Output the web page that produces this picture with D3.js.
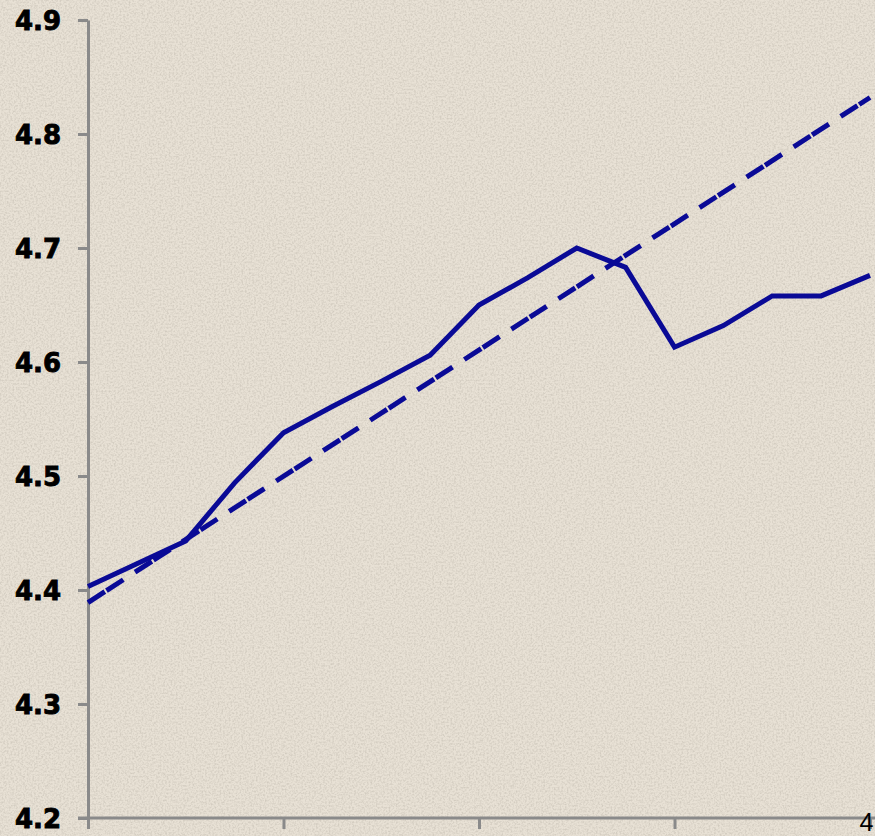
<!DOCTYPE html>
<html>
<head>
<meta charset="utf-8">
<script src="https://cdn.jsdelivr.net/npm/d3@7/dist/d3.min.js"></script>
<style>
  html, body { margin: 0; padding: 0; background: #e6dfd3; }
  svg { display: block; }
</style>
</head>
<body>
<svg id="chart" width="875" height="836"></svg>
<script>
// Quarterly index values (x = quarter number)
const quarters = [0, 1, 2, 3, 4, 5, 6, 7, 8, 9, 10, 11, 12, 13, 14, 15, 16];
const actual = [4.403, 4.423, 4.443, 4.494, 4.538, 4.561, 4.583, 4.606, 4.650,
                4.674, 4.700, 4.683, 4.613, 4.632, 4.658, 4.658, 4.676];
// Trend line end points
const trendX = [0, 16];
const trendY = [4.389, 4.832];
// Axis ticks
const yTicks = [4.2, 4.3, 4.4, 4.5, 4.6, 4.7, 4.8, 4.9];
const xTicks = [0, 4, 8, 12, 16];
const xTickLabels = ["", "", "", "", "4"];

const svg = d3.select("#chart");
const W = 875, H = 836;

// Textured paper background
const defs = svg.append("defs");
const f = defs.append("filter").attr("id", "paper")
  .attr("x", 0).attr("y", 0).attr("width", "100%").attr("height", "100%");
f.append("feTurbulence").attr("type", "fractalNoise")
  .attr("baseFrequency", 0.55).attr("numOctaves", 2).attr("seed", 7).attr("result", "n");
f.append("feColorMatrix").attr("type", "matrix")
  .attr("values", "0 0 0 0 0.35  0 0 0 0 0.32  0 0 0 0 0.27  0 0 0 -2.2 1.35");
svg.append("rect").attr("width", W).attr("height", H).attr("fill", "#e8e1d5");
svg.append("rect").attr("width", W).attr("height", H).attr("filter", "url(#paper)").attr("opacity", 0.3);

const x = d3.scaleLinear().domain([0, 16]).range([88, 870]);
const y = d3.scaleLinear().domain([4.2, 4.9]).range([818, 20]);

const axisColor = "#8a8a8a";

// Y axis
const yAxis = svg.append("g").attr("transform", "translate(88,0)")
  .call(d3.axisLeft(y).tickValues(yTicks).tickSize(10).tickSizeOuter(0)
    .tickFormat(d3.format(".1f")).tickPadding(17));
yAxis.select(".domain").attr("stroke", axisColor).attr("stroke-width", 3);
yAxis.selectAll(".tick line").attr("stroke", axisColor).attr("stroke-width", 3);
yAxis.selectAll(".tick text")
  .attr("font-family", "'DejaVu Sans', Verdana, sans-serif")
  .attr("font-weight", "bold").attr("font-size", 26).attr("fill", "#000")
  .attr("stroke", "#000").attr("stroke-width", 0.9)
  .attr("dy", "0.36em");

// X axis
const xAxis = svg.append("g").attr("transform", "translate(0,818)")
  .call(d3.axisBottom(x).tickValues(xTicks).tickSize(11).tickSizeOuter(0)
    .tickFormat((d, i) => xTickLabels[i]));
xAxis.select(".domain").attr("stroke", axisColor).attr("stroke-width", 3)
  .attr("d", "M78,0H875");
xAxis.selectAll(".tick line").attr("stroke", axisColor).attr("stroke-width", 3);
xAxis.selectAll(".tick text")
  .attr("font-family", "'Liberation Sans', Arial, sans-serif")
  .attr("font-size", 25).attr("fill", "#000").attr("text-anchor", "end")
  .attr("y", 13).attr("dy", 0).attr("dx", 3);

const lineColor = "#0a0a96";

// Trend (dashed)
const trend = trendX.map((d, i) => [d, trendY[i]]);
svg.append("path").datum(trend)
  .attr("fill", "none").attr("stroke", lineColor).attr("stroke-width", 5)
  .attr("stroke-dasharray", "20,2,20,14")
  .attr("d", d3.line().x(d => x(d[0])).y(d => y(d[1])));

// Actual values (solid)
const series = quarters.map((q, i) => [q, actual[i]]);
svg.append("path").datum(series)
  .attr("fill", "none").attr("stroke", lineColor).attr("stroke-width", 5)
  .attr("stroke-linejoin", "miter")
  .attr("d", d3.line().x(d => x(d[0])).y(d => y(d[1])));
</script>
</body>
</html>
